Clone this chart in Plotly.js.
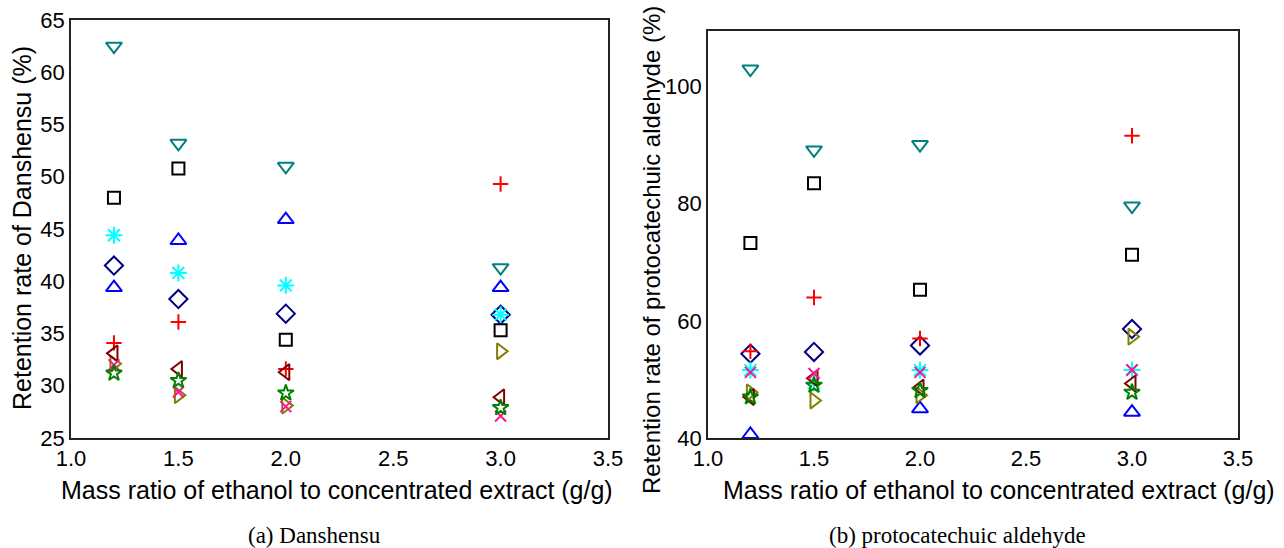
<!DOCTYPE html>
<html>
<head>
<meta charset="utf-8">
<script src="https://cdn.plot.ly/plotly-3.0.1.min.js"></script>
<style>html,body{margin:0;padding:0;background:#fff;}#chart{width:1284px;height:548px;}</style>
</head>
<body>
<div id="chart"></div>
<script>
// x categories (mass ratio, g/g)
const massRatio = [1.2, 1.5, 2.0, 3.0];
const xTicks = [1.0, 1.5, 2.0, 2.5, 3.0, 3.5];

// (a) Danshensu retention rate (%)
const dss_triDown  = [62.5, 53.2, 51.0, 41.3];
const dss_square   = [48.0, 50.8, 34.4, 35.3];
const dss_asterisk = [44.4, 40.8, 39.6, 36.8];
const dss_diamond  = [41.5, 38.3, 36.9, 36.8];
const dss_triUp    = [39.4, 43.9, 45.9, 39.4];
const dss_plus     = [34.1, 36.1, 31.6, 49.3];
const dss_triLeft  = [33.1, 31.6, 31.3, 28.9];
const dss_triRight = [32.1, 29.1, 28.1, 33.3];
const dss_xmark    = [32.0, 29.4, 28.0, 27.1];
const dss_star     = [31.2, 30.5, 29.3, 27.9];

// (b) protocatechuic aldehyde retention rate (%)
const pca_triDown  = [103.0, 89.2, 90.1, 79.6];
const pca_square   = [73.3, 83.5, 65.3, 71.3];
const pca_asterisk = [51.6, 49.4, 51.6, 51.6];
const pca_diamond  = [54.4, 54.7, 55.8, 58.6];
const pca_triUp    = [40.6, null, 45.0, 44.4];
const pca_plus     = [54.8, 64.0, 57.0, 91.6];
const pca_triLeft  = [47.0, 50.2, 48.6, 49.3];
const pca_triRight = [47.8, 46.4, 47.3, 57.3];
const pca_xmark    = [51.2, 51.0, 51.2, 51.6];
const pca_star     = [47.0, 49.0, 48.1, 47.8];

const styles = [
  {key:'triDown',  symbol:'triangle-down-open',  color:'#008080', size:14},
  {key:'square',   symbol:'square-open',         color:'#000000', size:12},
  {key:'triUp',    symbol:'triangle-up-open',    color:'#0000FF', size:14},
  {key:'diamond',  symbol:'diamond-open',        color:'#000080', size:14},
  {key:'asterisk', symbol:'asterisk-open',       color:'#00FFFF', size:14},
  {key:'plus',     symbol:'cross-thin-open',     color:'#FF0000', size:11},
  {key:'triRight', symbol:'triangle-right-open', color:'#808000', size:14},
  {key:'triLeft',  symbol:'triangle-left-open',  color:'#800000', size:14},
  {key:'xmark',    symbol:'x-thin-open',         color:'#FF1493', size:11},
  {key:'star',     symbol:'star-open',           color:'#008000', size:12}
];
const dssData = {triDown:dss_triDown, square:dss_square, triUp:dss_triUp, diamond:dss_diamond, asterisk:dss_asterisk, plus:dss_plus, triRight:dss_triRight, triLeft:dss_triLeft, xmark:dss_xmark, star:dss_star};
const pcaData = {triDown:pca_triDown, square:pca_square, triUp:pca_triUp, diamond:pca_diamond, asterisk:pca_asterisk, plus:pca_plus, triRight:pca_triRight, triLeft:pca_triLeft, xmark:pca_xmark, star:pca_star};

const traces = [];
[[dssData,'x','y'],[pcaData,'x2','y2']].forEach(([d,xa,ya]) => {
  styles.forEach(s => {
    traces.push({
      type:'scatter', mode:'markers', x:massRatio, y:d[s.key], xaxis:xa, yaxis:ya,
      showlegend:false, cliponaxis:false, hoverinfo:'x+y',
      marker:{symbol:s.symbol, size:s.size, color:s.color, line:{color:s.color, width:2}}
    });
  });
});

const W = 1284, H = 548;
const sans = 'Liberation Sans, Arial, sans-serif';
const serif = 'Liberation Serif, Times New Roman, serif';
const axisCommon = {
  showline:true, mirror:true, linecolor:'#222', linewidth:1.8,
  showgrid:false, zeroline:false, ticks:'',
  tickfont:{family:sans, size:22, color:'#000'}
};
const layout = {
  width:W, height:H, margin:{l:0,r:0,t:0,b:0},
  paper_bgcolor:'#fff', plot_bgcolor:'#fff',
  xaxis: Object.assign({}, axisCommon, {domain:[71/W, 608/W], range:[1,3.5], tickvals:xTicks, tickformat:'.1f', anchor:'y'}),
  yaxis: Object.assign({}, axisCommon, {domain:[1-438/H, 1-20/H], range:[25,65], tick0:25, dtick:5, anchor:'x', ticklabelstandoff:0}),
  xaxis2: Object.assign({}, axisCommon, {domain:[708/W, 1238/W], range:[1,3.5], tickvals:xTicks, tickformat:'.1f', anchor:'y2'}),
  yaxis2: Object.assign({}, axisCommon, {domain:[1-438/H, 1-31/H], range:[40,109.5], tick0:40, dtick:20, anchor:'x2', ticklabelstandoff:0}),
  annotations:[
    {text:'Retention rate of Danshensu (%)', xref:'paper', yref:'paper', x:22/W, y:1-228/H, textangle:-90, showarrow:false, font:{family:sans, size:25, color:'#000'}, xanchor:'center', yanchor:'middle', borderpad:0},
    {text:'Retention rate of protocatechuic aldehyde (%)', xref:'paper', yref:'paper', x:651/W, y:1-250/H, textangle:-90, showarrow:false, font:{family:sans, size:24, color:'#000'}, xanchor:'center', yanchor:'middle', borderpad:0},
    {text:'Mass ratio of ethanol to concentrated extract (g/g)', xref:'paper', yref:'paper', x:337/W, y:1-490/H, showarrow:false, font:{family:sans, size:25, color:'#000'}, xanchor:'center', yanchor:'middle', borderpad:0},
    {text:'Mass ratio of ethanol to concentrated extract (g/g)', xref:'paper', yref:'paper', x:999/W, y:1-490/H, showarrow:false, font:{family:sans, size:25, color:'#000'}, xanchor:'center', yanchor:'middle', borderpad:0},
    {text:'(a) Danshensu', xref:'paper', yref:'paper', x:314/W, y:1-535/H, showarrow:false, font:{family:serif, size:23, color:'#000'}, xanchor:'center', yanchor:'middle', borderpad:0},
    {text:'(b) protocatechuic aldehyde', xref:'paper', yref:'paper', x:957/W, y:1-535/H, showarrow:false, font:{family:serif, size:23, color:'#000'}, xanchor:'center', yanchor:'middle', borderpad:0}
  ]
};
Plotly.newPlot('chart', traces, layout, {staticPlot:true, displayModeBar:false});
</script>
</body>
</html>
